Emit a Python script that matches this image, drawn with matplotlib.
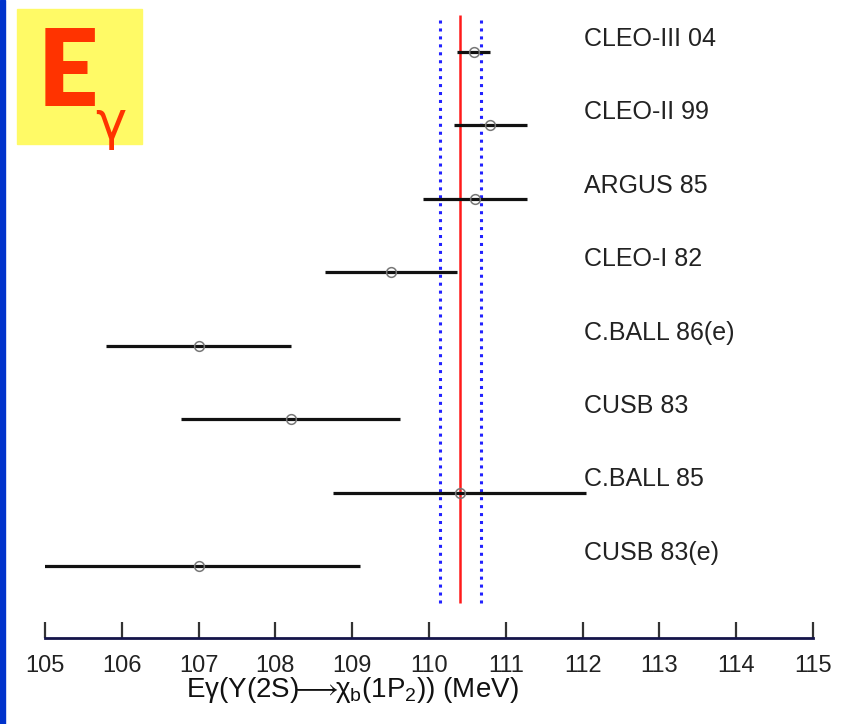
import matplotlib.pyplot as plt
from matplotlib.patches import Rectangle

# Photon energy measurements, E_gamma(Y(2S) -> chi_b(1P2)) in MeV
experiments = ['CLEO-III 04', 'CLEO-II 99', 'ARGUS 85', 'CLEO-I 82',
               'C.BALL 86(e)', 'CUSB 83', 'C.BALL 85', 'CUSB 83(e)']
energy = [110.58, 110.80, 110.60, 109.50, 107.00, 108.20, 110.40, 107.00]
err_lo = [0.21, 0.47, 0.68, 0.86, 1.21, 1.43, 1.65, 2.10]
err_hi = [0.22, 0.47, 0.68, 0.86, 1.20, 1.42, 1.65, 2.10]

# World average and its band
avg = 110.41
avg_err = 0.27

plt.rcParams['font.family'] = ['Liberation Sans', 'DejaVu Sans']
plt.rcParams['mathtext.fontset'] = 'custom'
plt.rcParams['mathtext.rm'] = 'Liberation Sans'
plt.rcParams['mathtext.fallback'] = 'cm'

fig = plt.figure(figsize=(8.42, 7.24), dpi=100)
ax = fig.add_axes([45 / 842, 1 - 638 / 724, 768 / 842, 638 / 724])

rows = list(range(len(experiments)))

# Average line with dotted error band
ax.vlines(avg, -0.5, 7.5, color='#ff1a1a', lw=1.8, zorder=2)
for edge in (avg - avg_err, avg + avg_err):
    ax.vlines(edge, -0.44, 7.5, color='#2222ff', lw=2.2,
              linestyles=(0, (1, 1.6)), zorder=2)

# Measurements
ax.errorbar(energy, rows, xerr=[err_lo, err_hi], fmt='none',
            ecolor='#111111', elinewidth=2.3, capsize=0, zorder=3)
ax.plot(energy, rows, 'o', ms=7, mfc='none', mec='#777777', mew=1.1,
        zorder=4)

for i, name in enumerate(experiments):
    ax.text(112.02, i - 0.18, name, fontsize=18, va='center',
            ha='left', color='#222222')

ax.set_xlim(105, 115)
ax.set_ylim(7.98, -0.708)
ax.set_xticks(range(105, 116))
ax.set_yticks([])
for side in ('left', 'right', 'top'):
    ax.spines[side].set_visible(False)
ax.spines['bottom'].set_color('#14144a')
ax.spines['bottom'].set_linewidth(2)
ax.tick_params(axis='x', direction='in', length=11.5, width=1.6,
               color='#333333', labelsize=17, pad=12,
               labelcolor='#222222')
ax.patch.set_alpha(0)

fig.text(352 / 842, 1 - 690 / 724,
         'Eγ(Y(2S)$\\!\\!\\longrightarrow\\!\\!$χ$_{\\rm b}$(1P$_{\\rm 2}$)) (MeV)',
         fontsize=20, ha='center', va='center', color='#111111')

# Blue strip on the left edge and the yellow title box
fig.patches.append(Rectangle((0, 0), 5 / 842, 1, transform=fig.transFigure,
                             color='#0033cc', zorder=5))
fig.patches.append(Rectangle((17 / 842, 1 - 144 / 724), 125 / 842,
                             135 / 724, transform=fig.transFigure,
                             color='#fffa66', zorder=5))
fig.text(38 / 842, 1 - 75 / 724, 'E', fontsize=76, fontweight='heavy',
         family=['Lato', 'DejaVu Sans'],
         color='#ff3300', ha='left', va='center', zorder=6)
fig.text(95 / 842, 1 - 124 / 724, 'γ', fontsize=38,
         family=['DejaVu Sans'],
         color='#ff3300', ha='left', va='center', zorder=6)

fig.savefig('out.png', dpi=100)
